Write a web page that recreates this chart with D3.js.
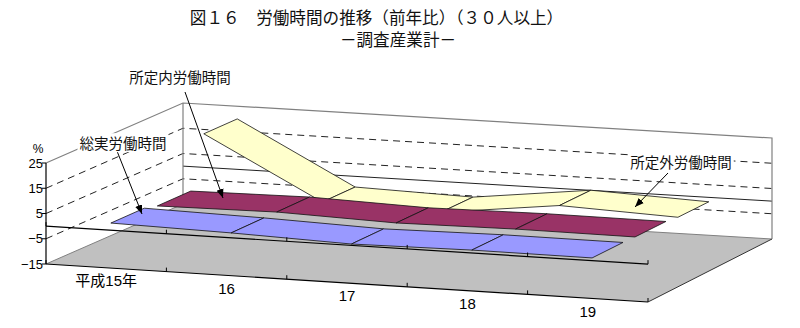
<!DOCTYPE html>
<html><head><meta charset="utf-8">
<script src="https://cdn.jsdelivr.net/npm/d3@7"></script>
<style>body{margin:0;background:#fff}</style>
</head><body>
<svg id="c" width="800" height="328"></svg>
<script>
// ---- data ----
const categories = ["平成15年", "16", "17", "18", "19"];
const seriesNames = ["総実労働時間", "所定内労働時間", "所定外労働時間"];
const totalHours = [1.9, 1.0, -0.4, 0.2, 0.1];
const scheduledHours = [0.5, 1.0, -0.4, 0.1, -0.1];
const overtimeHours = [20.9, -3.3, -4.5, 1.0, -0.8];
const valueTicks = [-15, -5, 5, 15, 25];
const valueTickLabels = ["−15", "−5", "5", "15", "25"];
const titleText = "図１６　労働時間の推移（前年比）（３０人以上）";
const subtitleText = "－調査産業計－";
const unitText = "%";

const seriesValues = [totalHours, scheduledHours, overtimeHours];
const seriesColors = ["#9999ff", "#993366", "#ffffcc"];

// ---- scales & projection ----
const svg = d3.select("#c");
const uScale = d3.scalePoint().domain(categories).range([0, 1]).padding(0.5);
const dScale = d3.scaleBand().domain(seriesNames).range([0, 1]).paddingInner(0.28).paddingOuter(0.1);
const vScale = d3.scaleLinear().domain([-15, 25]).range([0, 101]);
const FL = [46, 264], FR = [648, 302], BL = [183, 204], BR = [772, 239];
function P(u, d, v) {
  const fx = FL[0] + (FR[0] - FL[0]) * u, fy = FL[1] + (FR[1] - FL[1]) * u;
  const bx = BL[0] + (BR[0] - BL[0]) * u, by = BL[1] + (BR[1] - BL[1]) * u;
  return [fx + (bx - fx) * d, fy + (by - fy) * d - vScale(v)];
}
const line = d3.line();
const poly = pts => line(pts) + "Z";

// walls
svg.append("path").attr("d", poly([P(0,0,-15), P(0,0,25), P(0,1,25), P(0,1,-15)])).attr("fill", "#fff");
svg.append("path").attr("d", poly([P(0,1,-15), P(0,1,25), P(1,1,25), P(1,1,-15)])).attr("fill", "#fff");
// floor
svg.append("path").attr("d", poly([P(0,0,-15), P(1,0,-15), P(1,1,-15), P(0,1,-15)])).attr("fill", "#c0c0c0");
// floor edges
svg.append("path").attr("d", line([P(0,0,-15), P(0,1,-15), P(1,1,-15)])).attr("fill", "none").attr("stroke", "#808080").attr("stroke-width", 1);
svg.append("path").attr("d", line([P(1,1,-15), P(1,0,-15)])).attr("fill", "none").attr("stroke", "#333").attr("stroke-width", 1);

// gridlines
valueTicks.filter(v => v > -15 && v < 25).forEach(v => {
  svg.append("path").attr("d", line([P(0,0,v), P(0,1,v), P(1,1,v)]))
    .attr("fill", "none").attr("stroke", "#222").attr("stroke-width", 1).attr("stroke-dasharray", "7,5");
});
svg.append("path").attr("d", line([P(0,1,0), P(1,1,0)])).attr("fill", "none").attr("stroke", "#222").attr("stroke-width", 1);
// wall edges
svg.append("path").attr("d", line([P(0,0,25), P(0,1,25), P(1,1,25), P(1,1,-15)])).attr("fill", "none").attr("stroke", "#808080").attr("stroke-width", 1.2);
svg.append("path").attr("d", line([P(0,1,25), P(0,1,-15)])).attr("fill", "none").attr("stroke", "#808080").attr("stroke-width", 1.2);

// ribbons, back to front
for (let s = seriesNames.length - 1; s >= 0; s--) {
  const d0 = dScale(seriesNames[s]), d1 = d0 + dScale.bandwidth();
  const vals = seriesValues[s];
  for (let i = 0; i < categories.length - 1; i++) {
    const u0 = uScale(categories[i]), u1 = uScale(categories[i + 1]);
    svg.append("path")
      .attr("d", poly([P(u0,d0,vals[i]), P(u1,d0,vals[i+1]), P(u1,d1,vals[i+1]), P(u0,d1,vals[i])]))
      .attr("fill", seriesColors[s]).attr("stroke", "#111").attr("stroke-width", 0.8).attr("stroke-linejoin", "round");
  }
}

// front axis lines with ticks
const tickU = d3.range(0, categories.length + 1).map(i => i / categories.length);
[0, -15].forEach(v => {
  svg.append("path").attr("d", line([P(0,0,v), P(1,0,v)])).attr("fill", "none").attr("stroke", "#000").attr("stroke-width", 1.2);
  tickU.forEach(u => {
    const p = P(u, 0, v);
    svg.append("line").attr("x1", p[0]).attr("x2", p[0]).attr("y1", p[1]).attr("y2", p[1] - 4).attr("stroke", "#000").attr("stroke-width", 1);
  });
});
// value axis
svg.append("path").attr("d", line([P(0,0,-15), P(0,0,25)])).attr("stroke", "#000").attr("stroke-width", 1.2).attr("fill", "none");
valueTicks.forEach((v, i) => {
  const p = P(0, 0, v);
  svg.append("line").attr("x1", p[0] - 4).attr("x2", p[0]).attr("y1", p[1]).attr("y2", p[1]).attr("stroke", "#000");
  svg.append("text").attr("x", p[0] - 3).attr("y", p[1]).attr("dy", "0.36em").attr("text-anchor", "end")
    .attr("font-family", "Liberation Sans, Arial, sans-serif").attr("font-size", 13).text(valueTickLabels[i]);
});
svg.append("text").attr("x", 38).attr("y", 149).attr("dy", "0.36em").attr("text-anchor", "middle")
  .attr("font-family", "Liberation Sans, Arial, sans-serif").attr("font-size", 12).text(unitText);

// category labels
categories.forEach(c => {
  const p = P(uScale(c), 0, -15);
  svg.append("text").attr("x", p[0]).attr("y", p[1] + 13).attr("dy", "0.36em").attr("text-anchor", "middle")
    .attr("font-family", "Liberation Sans, 'Noto Sans CJK JP', sans-serif").attr("font-size", 15).text(c);
});

// annotations
const cjk = "'Noto Sans CJK JP', sans-serif";
const annots = [
  { name: seriesNames[0], cx: 123, cy: 144, from: [117, 151], to: [142, 214] },
  { name: seriesNames[1], cx: 180, cy: 78, from: [185, 92], to: [223, 198] },
  { name: seriesNames[2], cx: 681, cy: 163, from: [668, 173], to: [635, 207] }
];
svg.append("defs").append("marker").attr("id", "ah").attr("viewBox", "0 0 10 10").attr("refX", 10).attr("refY", 5)
  .attr("markerWidth", 9).attr("markerHeight", 9).attr("markerUnits", "userSpaceOnUse").attr("orient", "auto")
  .append("path").attr("d", "M0,1L10,5L0,9Z").attr("fill", "#000");
annots.forEach(a => {
  svg.append("line").attr("x1", a.from[0]).attr("y1", a.from[1]).attr("x2", a.to[0]).attr("y2", a.to[1])
    .attr("stroke", "#000").attr("stroke-width", 1).attr("marker-end", "url(#ah)");
  const t = svg.append("text").attr("x", a.cx).attr("y", a.cy).attr("dy", "0.36em").attr("text-anchor", "middle")
    .attr("font-family", cjk).attr("font-size", 14.5).attr("fill", "#111").text(a.name);
  const bb = t.node().getBBox();
  svg.insert("rect", () => t.node()).attr("x", bb.x - 2).attr("y", bb.y + 1).attr("width", bb.width + 4).attr("height", bb.height - 2).attr("fill", "#fff");
});

// titles
svg.append("text").attr("x", 376.5).attr("y", 18).attr("dy", "0.36em").attr("text-anchor", "middle")
  .attr("font-family", cjk).attr("font-size", 16.6).attr("fill", "#111").text(titleText);
svg.append("text").attr("x", 398).attr("y", 40).attr("dy", "0.36em").attr("text-anchor", "middle")
  .attr("font-family", cjk).attr("font-size", 16.6).attr("fill", "#111").text(subtitleText);
</script>
</body></html>
